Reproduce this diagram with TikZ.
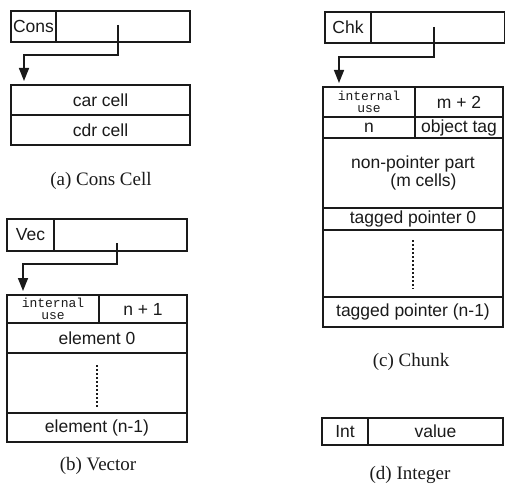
\documentclass[tikz,border=0pt]{standalone}
\usepackage{fontspec}
\setmainfont{Liberation Serif}
\setsansfont{Liberation Sans}
\setmonofont{Liberation Mono}
\usepackage{xcolor}
\usepackage{tikz}
\usetikzlibrary{arrows.meta,positioning,calc}
\definecolor{CellInk}{HTML}{1A1A1A}
\tikzset{
  cellbox/.style={draw=CellInk,line width=1.5pt,anchor=north west,inner sep=0pt,outer sep=0pt,align=center,text=CellInk,font=\sffamily\fontsize{17.5}{18}\selectfont},
  usebox/.style={cellbox,font=\ttfamily\fontsize{13}{12.5}\selectfont},
  ptrarrow/.style={-{Triangle[length=13pt,width=10pt]},line width=1.5pt,draw=CellInk,shorten >=4pt},
  dotrule/.style={line width=2.4pt,draw=CellInk,dash pattern=on 2pt off 2pt},
  caption/.style={font=\rmfamily\fontsize{19}{21}\selectfont,text=CellInk}
}

\begin{document}
\begin{tikzpicture}[x=1pt,y=-1pt]
\useasboundingbox (0,0) rectangle (505,486);
% (a) cons cell
\node[cellbox,minimum width=45,minimum height=31] (conshead) at (11,11) {Cons};
\node[cellbox,minimum width=134,minimum height=31] (consfield) at (56,11) {};
\coordinate (consptr) at (118,25);
\node[cellbox,minimum width=179,minimum height=30] (conscar) at (11,85) {car cell};
\node[cellbox,minimum width=179,minimum height=30] (conscdr) at (11,115) {cdr cell};
\draw[ptrarrow] (consptr) -- ++(0,30) -| ([xshift=13pt]conscar.north west);
\node[caption] (conscap) at (101,181) {(a) Cons Cell};
% (b) vector
\node[cellbox,minimum width=47,minimum height=32] (vechead) at (7,219) {Vec};
\node[cellbox,minimum width=133,minimum height=32] (vecfield) at (54,219) {};
\coordinate (vecptr) at (117,243);
\node[usebox,minimum width=92,minimum height=28] (vecuse) at (7,295) {internal\\use};
\node[cellbox,minimum width=88,minimum height=28] (veclen) at (99,295) {n + 1};
\node[cellbox,minimum width=180,minimum height=30] (vecfirst) at (7,323) {element 0};
\node[cellbox,minimum width=180,minimum height=60] (vecgap) at (7,353) {};
\node[cellbox,minimum width=180,minimum height=29] (veclast) at (7,413) {element (n-1)};
\draw[ptrarrow] (vecptr) -- ++(0,21) -| ([xshift=16pt]vecuse.north west);
\draw[dotrule] ([yshift=-12pt]vecgap.north) -- ([yshift=5pt]vecgap.south);
\node[caption] (veccap) at (98,466) {(b) Vector};
% (c) chunk
\node[cellbox,minimum width=46,minimum height=31] (chkhead) at (325,12) {Chk};
\node[cellbox,minimum width=134,minimum height=31] (chkfield) at (371,12) {};
\coordinate (chkptr) at (434,27);
\node[usebox,minimum width=92,minimum height=30] (chkuse) at (323,87) {internal\\use};
\node[cellbox,minimum width=88,minimum height=30] (chklen) at (415,87) {m + 2};
\node[cellbox,minimum width=92,minimum height=21] (chkn) at (323,117) {n};
\node[cellbox,minimum width=88,minimum height=21] (chktag) at (415,117) {object tag};
\node[cellbox,minimum width=180,minimum height=70] (chkraw) at (323,138) {non-pointer part\\\hspace*{1.2em}(m cells)};
\node[cellbox,minimum width=180,minimum height=22] (chkfirst) at (323,208) {tagged pointer 0};
\node[cellbox,minimum width=180,minimum height=67] (chkgap) at (323,230) {};
\node[cellbox,minimum width=180,minimum height=30] (chklast) at (323,297) {tagged pointer (n-1)};
\draw[ptrarrow] (chkptr) -- ++(0,30) -| ([xshift=16pt]chkuse.north west);
\draw[dotrule] ([yshift=-10pt]chkgap.north) -- ([yshift=8pt]chkgap.south);
\node[caption] (chkcap) at (411,362) {(c) Chunk};
% (d) integer
\node[cellbox,minimum width=46,minimum height=27] (inthead) at (322,418) {Int};
\node[cellbox,minimum width=135,minimum height=27] (intval) at (368,418) {value};
\node[caption] (intcap) at (410,475) {(d) Integer};
\end{tikzpicture}
\end{document}
